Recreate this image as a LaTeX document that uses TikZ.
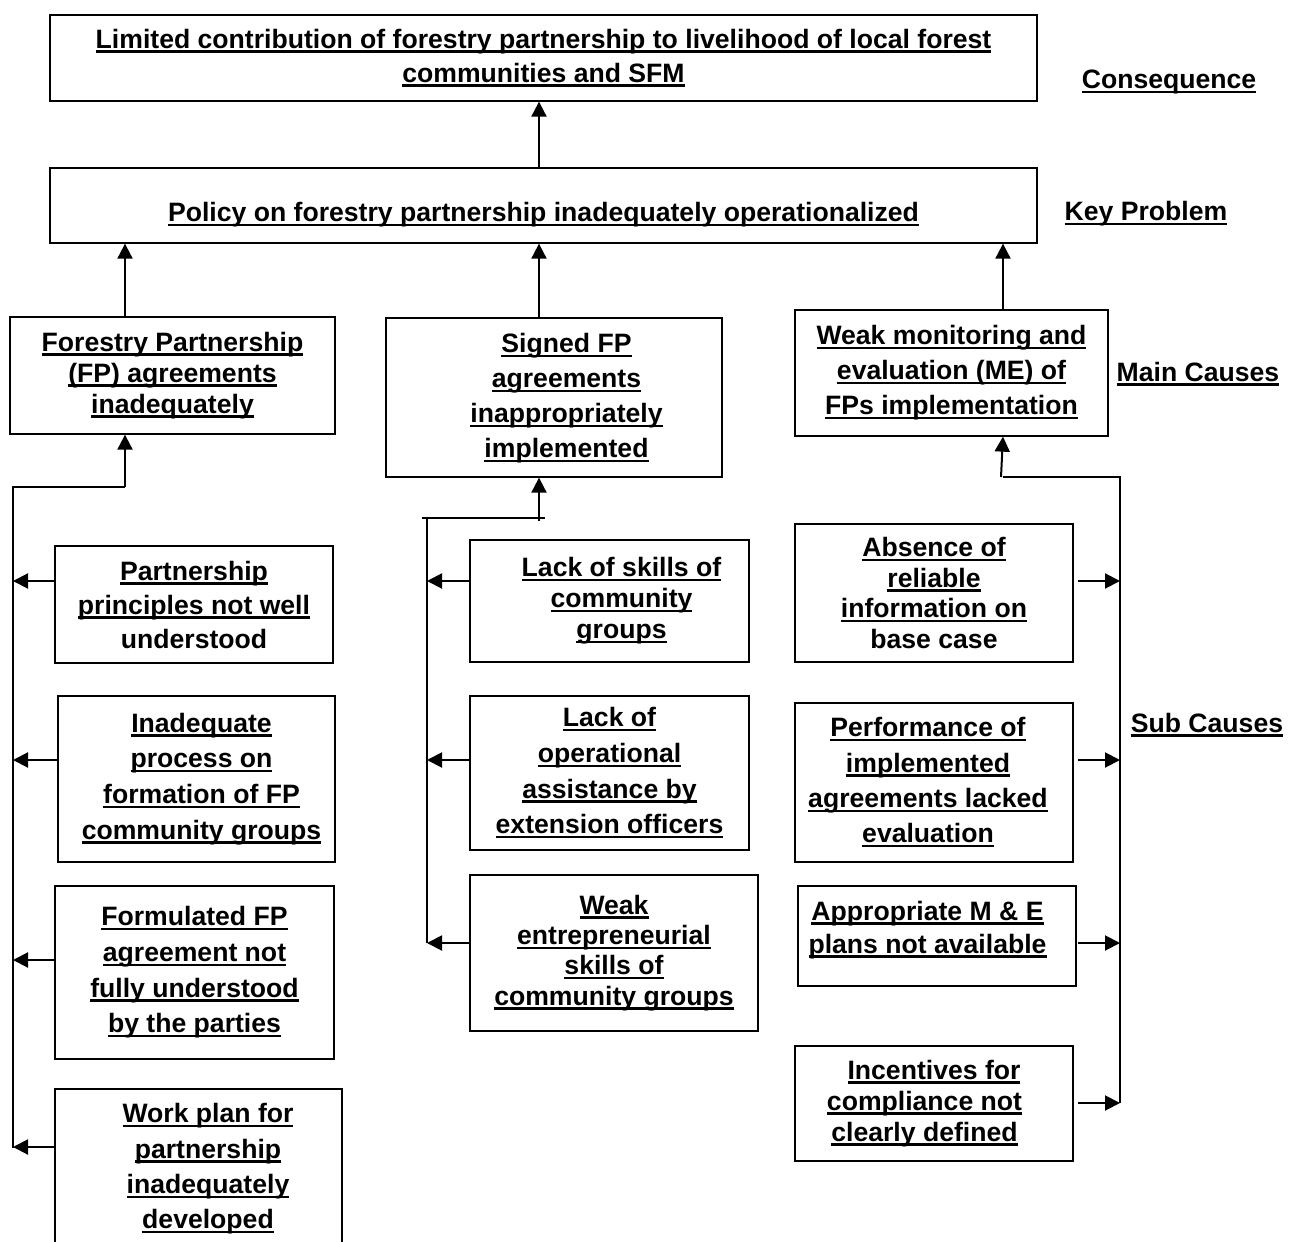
\documentclass[tikz,border=0pt]{standalone}
\usepackage{fontspec}
\setmainfont{Liberation Sans}
\usetikzlibrary{arrows.meta}
\newcommand\ulx[1]{\leavevmode\setbox0=\hbox{#1}\rlap{\rule[-4.5pt]{\wd0}{2.4pt}}\copy0}
\newcommand\pl[1]{\hspace*{#1}}
\newcommand\pr[1]{\rule{#1}{0pt}}
\tikzset{
  box/.style={draw=black, line width=1.3pt, inner sep=0pt, align=center, font=\fontsize{26.6}{#1}\selectfont\bfseries},
  box/.default=35,
  lab/.style={inner sep=0pt, font=\fontsize{26.6}{30}\selectfont\bfseries},
  conn/.style={line width=2pt},
  arr/.style={line width=2pt, -{Triangle[length=15pt,width=15pt]}}
}
\begin{document}
\begin{tikzpicture}[x=1pt,y=-1pt]
\fill[white] (0,0) rectangle (1299,1242);
\clip (0,0) rectangle (1299,1242);
% top levels
\node[box=34, minimum width=987pt, minimum height=86pt] (top) at (543.5,58)
  {\ulx{Limited contribution of forestry partnership to livelihood of local forest}\\\ulx{communities and SFM}};
\node[box=34, minimum width=987pt, minimum height=75pt] (key) at (543.5,205.5)
  {\raisebox{-16pt}[0pt][0pt]{\ulx{Policy on forestry partnership inadequately operationalized}}};
% main causes
\node[box=31, minimum width=325pt, minimum height=117pt] (m1) at (172.5,375.5)
  {\ulx{Forestry Partnership}\\\ulx{(FP) agreements}\\\ulx{inadequately}};
\node[box=35, minimum width=336pt, minimum height=159pt] (m2) at (554,397.5)
  {\pl{25pt}\ulx{Signed FP}\\\pl{25pt}\ulx{agreements}\\\pl{25pt}\ulx{inappropriately}\\\pl{25pt}\ulx{implemented}\\[-31pt]\mbox{}};
\node[box=35, minimum width=313pt, minimum height=126pt] (m3) at (951.5,373)
  {\ulx{Weak monitoring and}\\\ulx{evaluation (ME) of}\\\ulx{FPs implementation}};
% left sub causes
\node[box=34, minimum width=278pt, minimum height=117pt] (l1) at (194,604.5)
  {\ulx{Partnership}\\\ulx{principles not well}\\understood};
\node[box=35.7, minimum width=277pt, minimum height=166pt] (l2) at (196.5,779)
  {\pl{10pt}\ulx{Inadequate}\\\pl{10pt}\ulx{process on}\\\pl{10pt}\ulx{formation of FP}\\\pl{10pt}\ulx{community groups}};
\node[box=35.7, minimum width=279pt, minimum height=173pt] (l3) at (194.5,972.5)
  {\ulx{Formulated FP}\\\ulx{agreement not}\\\ulx{fully understood}\\\ulx{by the parties}};
\node[box=35.3, minimum width=287pt, minimum height=160pt] (l4) at (198.5,1169)
  {\pl{19pt}\ulx{Work plan for}\\\pl{19pt}\ulx{partnership}\\\pl{19pt}\ulx{inadequately}\\\pl{19pt}\ulx{developed}};
% middle sub causes
\node[box=31, minimum width=279pt, minimum height=122pt] (c1) at (609.5,601)
  {\pl{24pt}\ulx{Lack of skills of}\\\pl{24pt}\ulx{community}\\\pl{24pt}\ulx{groups}};
\node[box=35.7, minimum width=279pt, minimum height=154pt] (c2) at (609.5,773)
  {\ulx{Lack of}\\\ulx{operational}\\\ulx{assistance by}\\\ulx{extension officers}};
\node[box=30.3, minimum width=288pt, minimum height=156pt] (c3) at (614,953)
  {\ulx{Weak}\\\ulx{entrepreneurial}\\\ulx{skills of}\\\ulx{community groups}};
% right sub causes
\node[box=30.7, minimum width=278pt, minimum height=138pt] (r1) at (934,593)
  {\ulx{Absence of}\\\ulx{reliable}\\\ulx{information on}\\base case};
\node[box=35.3, minimum width=278pt, minimum height=159pt] (r2) at (934,782.5)
  {\ulx{Performance of}\pr{12pt}\\\ulx{implemented}\pr{12pt}\\\ulx{agreements lacked}\pr{12pt}\\\ulx{evaluation}\pr{12pt}};
\node[box=33, minimum width=278pt, minimum height=100pt] (r3) at (937,936)
  {\ulx{Appropriate M \& E}\pr{19pt}\\\ulx{plans not available}\pr{19pt}\\[-15pt]\mbox{}};
\node[box=31, minimum width=278pt, minimum height=115pt] (r4) at (934,1103.5)
  {\ulx{Incentives for}\\\ulx{compliance not}\pr{19pt}\\\ulx{clearly defined}\pr{19pt}};
% level labels
\node[lab] (lcons) at (1169,82) {\ulx{Consequence}};
\node[lab] (lkey) at (1146,214) {\ulx{Key Problem}};
\node[lab] (lmain) at (1198,374) {\ulx{Main Causes}};
\node[lab] (lsub) at (1207,725) {\ulx{Sub Causes}};
% bus coordinates
\coordinate (xa) at (125,0);
\coordinate (xb) at (539,0);
\coordinate (xc) at (1003,0);
\coordinate (lbt) at (13,487);
\coordinate (lbb) at (13,1148);
\coordinate (lbj) at (125,487);
\coordinate (mbl) at (422,518);
\coordinate (mbt) at (427,518);
\coordinate (mbb) at (427,943);
\coordinate (mbj) at (545,518);
\coordinate (mba) at (539,521);
\coordinate (rbj) at (1003,477);
\coordinate (rbt) at (1120,477);
\coordinate (rbb) at (1120,1103);
\coordinate (rba) at (1001,477);
% upper arrows
\draw[arr] (xb |- key.north) -- (xb |- top.south);
\draw[arr] (xa |- m1.north) -- (xa |- key.south);
\draw[arr] (xb |- m2.north) -- (xb |- key.south);
\draw[arr] (xc |- m3.north) -- (xc |- key.south);
% left bus
\draw[conn] (lbb) -- (lbt) -- (lbj);
\draw[arr] (lbj) -- (lbj |- m1.south);
\coordinate (l1a) at (55,581);
\coordinate (l2a) at (58,760);
\coordinate (l3a) at (55,960);
\coordinate (l4a) at (55,1147);
\draw[arr] (l1a) -- (lbt |- l1a);
\draw[arr] (l2a) -- (lbt |- l2a);
\draw[arr] (l3a) -- (lbt |- l3a);
\draw[arr] (l4a) -- (lbt |- l4a);
% middle bus
\draw[conn] (mbb) -- (mbt);
\draw[conn] (mbl) -- (mbj);
\draw[arr] (mba) -- (mba |- m2.south);
\coordinate (c1a) at (470,581);
\coordinate (c2a) at (470,760);
\coordinate (c3a) at (470,943);
\draw[arr] (c1a) -- (mbt |- c1a);
\draw[arr] (c2a) -- (mbt |- c2a);
\draw[arr] (c3a) -- (mbt |- c3a);
% right bus
\draw[conn] (rbj) -- (rbt) -- (rbb);
\draw[arr] (rba) -- (xc |- m3.south);
\coordinate (r1a) at (1078,581);
\coordinate (r2a) at (1078,760);
\coordinate (r3a) at (1078,943);
\coordinate (r4a) at (1078,1103);
\draw[arr] (r1a) -- (rbt |- r1a);
\draw[arr] (r2a) -- (rbt |- r2a);
\draw[arr] (r3a) -- (rbt |- r3a);
\draw[arr] (r4a) -- (rbt |- r4a);
\end{tikzpicture}
\end{document}
